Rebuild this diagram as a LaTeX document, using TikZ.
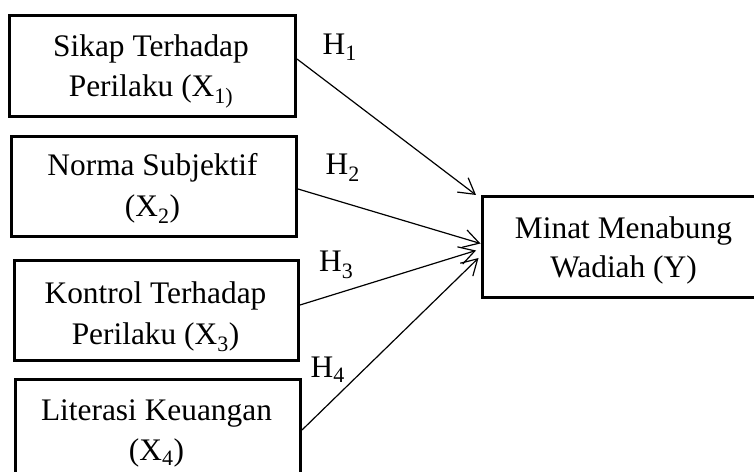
\documentclass[tikz,border=0pt]{standalone}
\usepackage{fontspec}
\setmainfont{Liberation Serif}
\usetikzlibrary{arrows.meta,calc}
\begin{document}
\begin{tikzpicture}[x=1bp,y=-1bp,
  box/.style={draw,line width=3bp,rectangle,anchor=north west,inner sep=0pt},
  txt/.style={anchor=base,inner sep=0pt,font=\fontsize{31.5}{40}\selectfont},
  arr/.style={line width=1.2bp,-{Straight Barb[length=15.5bp,width=18bp,line width=1.2bp]}}]
\useasboundingbox (0,0) rectangle (754,472);
\clip (0,0) rectangle (754,472);
% boxes
\node[box,minimum width=286bp,minimum height=101bp] (b1) at (8,14) {};
\node[box,minimum width=285bp,minimum height=100bp] (b2) at (10,135) {};
\node[box,minimum width=284bp,minimum height=100bp] (b3) at (13,259) {};
\node[box,minimum width=285bp,minimum height=100bp] (b4) at (14,378) {};
\node[box,minimum width=286bp,minimum height=101bp] (by) at (481,195) {};
% texts
\node[txt] (t1a) at (151,57) {Sikap Terhadap};
\node[txt] (t1b) at (151,97) {Perilaku (X\textsubscript{1)}};
\node[txt] (t2a) at (152.5,176) {Norma Subjektif};
\node[txt] (t2b) at (152.5,217) {(X\textsubscript{2})};
\node[txt] (t3a) at (155.5,304) {Kontrol Terhadap};
\node[txt] (t3b) at (155.5,345) {Perilaku (X\textsubscript{3})};
\node[txt] (t4a) at (156.5,420) {Literasi Keuangan};
\node[txt] (t4b) at (156.5,460) {(X\textsubscript{4})};
\node[txt] (tya) at (623.5,239) {Minat Menabung};
\node[txt] (tyb) at (623.5,278) {Wadiah (Y)};
% hypothesis labels
\node[txt,anchor=base west] (h1) at (322.5,55) {H\textsubscript{1}};
\node[txt,anchor=base west] (h2) at (325.5,175) {H\textsubscript{2}};
\node[txt,anchor=base west] (h3) at (319,272) {H\textsubscript{3}};
\node[txt,anchor=base west] (h4) at (310.5,377) {H\textsubscript{4}};
% arrow ends
\coordinate (e1) at (476,195);
\coordinate (e2) at (480.5,243.5);
\coordinate (e3) at (476,250.5);
\coordinate (e4) at (478.5,258);
\draw[arr] ($(b1.north east)+(0,45)$) -- (e1);
\draw[arr] ($(b2.north east)+(0,54)$) -- (e2);
\draw[arr] ($(b3.north east)+(0,46)$) -- (e3);
\draw[arr] ($(b4.north east)+(0,52)$) -- (e4);
\end{tikzpicture}
\end{document}
